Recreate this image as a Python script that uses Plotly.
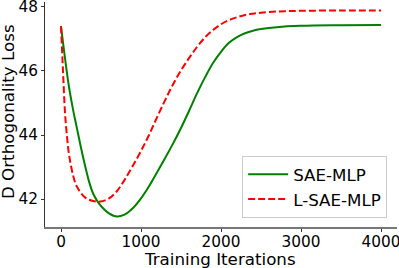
import plotly.graph_objects as go

iters_sae = [0, 50, 100, 150, 200, 250, 300, 350, 400, 450, 500, 600, 700, 800, 900, 1000, 1100, 1200,
             1300, 1400, 1500, 1600, 1700, 1800, 1900, 2000, 2100, 2200, 2300, 2400, 2500, 2700,
             3000, 3500, 4000]
loss_sae = [47.40, 46.40, 45.50, 44.80, 44.20, 43.60, 43.05, 42.55, 42.18, 41.95, 41.78, 41.55,
            41.45, 41.52, 41.72, 42.02, 42.40, 42.83, 43.27, 43.73, 44.22, 44.75, 45.30, 45.80,
            46.25, 46.60, 46.88, 47.06, 47.18, 47.26, 47.31, 47.37, 47.41, 47.43, 47.44]

iters_lsae = [0, 25, 50, 75, 100, 150, 200, 300, 400, 490, 600, 700, 800, 900, 1000, 1100, 1200,
              1300, 1400, 1500, 1600, 1700, 1800, 1900, 2000, 2100, 2200, 2300, 2400, 2500, 2700,
              3000, 3500, 4000]
loss_lsae = [47.40, 46.00, 44.70, 43.95, 43.40, 42.75, 42.38, 42.05, 41.94, 41.92, 42.02, 42.25,
             42.62, 43.05, 43.50, 44.00, 44.55, 45.08, 45.58, 46.02, 46.40, 46.75, 47.05, 47.28,
             47.46, 47.59, 47.68, 47.75, 47.79, 47.82, 47.86, 47.88, 47.89, 47.89]

x_ticks = [0, 1000, 2000, 3000, 4000]
y_ticks = [42, 44, 46, 48]
x_title = "Training Iterations"
y_title = "D Orthogonality Loss"

font = "DejaVu Sans"
fs_tick = 15.3
fs_label = 16.7

fig = go.Figure()
fig.add_trace(go.Scatter(x=iters_sae, y=loss_sae, mode="lines", name="SAE-MLP",
                         line=dict(color="green", width=2, shape="spline", smoothing=1.0)))
fig.add_trace(go.Scatter(x=iters_lsae, y=loss_lsae, mode="lines", name="L-SAE-MLP",
                         line=dict(color="red", width=2, dash="7px,3px", shape="spline", smoothing=1.0)))

fig.update_layout(
    width=399, height=268,
    margin=dict(l=45, r=2, t=2, b=41),
    paper_bgcolor="white", plot_bgcolor="white",
    font=dict(family=font, size=fs_tick, color="black"),
    showlegend=True,
    legend=dict(x=0.972, y=0.04, xanchor="right", yanchor="bottom",
                bgcolor="white", bordercolor="#cccccc", borderwidth=1,
                font=dict(family=font, size=fs_label), itemwidth=40),
    xaxis=dict(range=[-200, 4200], tickvals=x_ticks, ticktext=[str(v) for v in x_ticks],
               automargin=False, ticklabeloverflow="allow", ticklabelstandoff=-3,
               showgrid=False, zeroline=False, showline=True, linecolor="#777777", linewidth=1.5,
               ticks="outside", ticklen=3, tickcolor="#333333", tickfont=dict(size=fs_tick)),
    yaxis=dict(range=[41.125, 48.156], tickvals=y_ticks, ticktext=[str(v) for v in y_ticks],
               automargin=False, ticklabeloverflow="allow",
               showgrid=False, zeroline=False, showline=True, linecolor="#333333", linewidth=1,
               ticks="outside", ticklen=3, tickcolor="#333333", tickfont=dict(size=fs_tick)),
    annotations=[
        dict(text=x_title, xref="paper", yref="paper", x=0.497, y=-0.142,
             xanchor="center", yanchor="middle", showarrow=False,
             font=dict(family=font, size=fs_label, color="black")),
        dict(text=y_title, xref="paper", yref="paper", x=-0.105, y=0.511,
             xanchor="center", yanchor="middle", showarrow=False, textangle=-90,
             font=dict(family=font, size=fs_label, color="black")),
    ],
)

fig.write_html("out.html", config={"displayModeBar": False},
               post_script="document.body.style.margin='0';document.body.style.padding='0';")
